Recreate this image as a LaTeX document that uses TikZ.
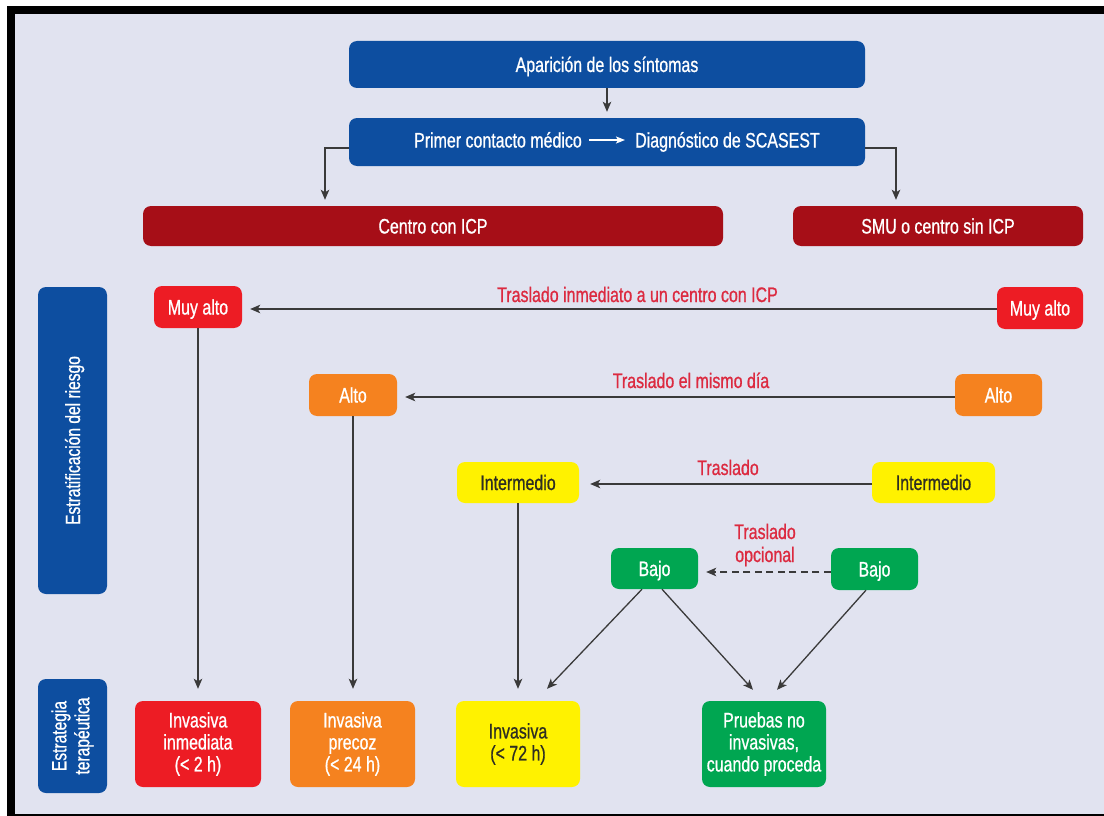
\documentclass[tikz,border=0pt]{standalone}
\usepackage{fontspec}
\setmainfont{Liberation Sans}[FakeStretch=0.76,FakeBold=0.8]
\usetikzlibrary{arrows.meta,calc}
\definecolor{bg}{HTML}{E1E3F0}
\definecolor{cblue}{HTML}{0D4EA0}
\definecolor{cdred}{HTML}{A60E17}
\definecolor{cred}{HTML}{ED1C24}
\definecolor{corange}{HTML}{F5821F}
\definecolor{cyellow}{HTML}{FFF200}
\definecolor{cgreen}{HTML}{00A651}
\definecolor{clbl}{HTML}{DC2A40}
\definecolor{cline}{HTML}{3A3A3A}
\definecolor{cdark}{HTML}{2E2E22}
\newcommand\bxfont{\fontsize{21}{22}\selectfont}
\newcommand\rtfont{\fontsize{20.5}{23}\selectfont}
\tikzset{
  box/.style={rounded corners=8pt, inner sep=0pt, align=center, text=white, font=\bxfont},
  one/.style={text height=15pt, text depth=0pt},
  bluebox/.style={box, fill=cblue},
  dredbox/.style={box, fill=cdred},
  redbox/.style={box, fill=cred},
  orangebox/.style={box, fill=corange},
  yellowbox/.style={box, fill=cyellow, text=cdark},
  greenbox/.style={box, fill=cgreen},
  wtext/.style={inner sep=0pt, text=white, font=\bxfont, text height=15pt, text depth=0pt},
  lbl/.style={inner sep=0pt, text=clbl, font=\bxfont, align=center},
  arr/.style={draw=cline, line width=1.3pt, -{Stealth[length=10pt,width=8.5pt,inset=2.5pt]}},
  warr/.style={draw=white, line width=1.2pt, -{Stealth[length=9pt,width=7pt,inset=2pt]}},
}
\begin{document}
\begin{tikzpicture}[x=1pt,y=-1pt]
\useasboundingbox (0,0) rectangle (1104,816);
\fill[white] (0,0) rectangle (1104,816);
\fill[black] (7,6) rectangle (1104,816);
\fill[bg] (15,14) rectangle (1104,814);

% top
\node[bluebox, one, minimum width=516pt, minimum height=47pt] (ap) at (607,64.5) {Aparición de los síntomas};
\node[bluebox, minimum width=516pt, minimum height=48pt] (pc) at (607,142) {};
\node[wtext, anchor=east] (pc1) at (582,140) {Primer contacto médico};
\node[wtext, anchor=west] (pc2) at (635,140) {Diagnóstico de SCASEST};
\draw[warr, shorten <=7pt, shorten >=10pt] (pc1) -- (pc2);

\node[dredbox, one, minimum width=580pt, minimum height=40pt] (centro) at (433,226) {Centro con ICP};
\node[dredbox, one, minimum width=290pt, minimum height=40pt] (smu) at (938,226) {SMU o centro sin ICP};

% side labels
\node[bluebox, one, rotate=90, font=\rtfont, minimum width=307pt, minimum height=69pt] (estr) at (72.5,440.5) {Estratificación del riesgo};
\node[bluebox, rotate=90, font=\rtfont, minimum width=114pt, minimum height=69pt] (estt) at (72.5,736) {Estrategia\\terapéutica};

% risk levels
\node[redbox, one, minimum width=88pt, minimum height=42pt] (muy1) at (198,307) {Muy alto};
\node[redbox, one, minimum width=86pt, minimum height=42pt] (muy2) at (1040,308) {Muy alto};
\node[orangebox, one, minimum width=88pt, minimum height=42pt] (alto1) at (353,395) {Alto};
\node[orangebox, one, minimum width=87pt, minimum height=42pt] (alto2) at (998.5,395) {Alto};
\node[yellowbox, one, minimum width=122pt, minimum height=41pt] (int1) at (518,482.5) {Intermedio};
\node[yellowbox, one, minimum width=123pt, minimum height=41pt] (int2) at (933.5,482.5) {Intermedio};
\node[greenbox, one, minimum width=87pt, minimum height=41pt] (bajo1) at (654.5,568.5) {Bajo};
\node[greenbox, one, minimum width=87pt, minimum height=42pt] (bajo2) at (874.5,569) {Bajo};

% strategies
\node[redbox, minimum width=126pt, minimum height=86pt] (inv1) at (198,744) {Invasiva\\inmediata\\(< 2 h)};
\node[orangebox, minimum width=125pt, minimum height=86pt] (inv2) at (352.5,744) {Invasiva\\precoz\\(< 24 h)};
\node[yellowbox, minimum width=124pt, minimum height=86pt] (inv3) at (518,744) {Invasiva\\(< 72 h)};
\node[greenbox, minimum width=124pt, minimum height=86pt] (prue) at (764,744) {Pruebas no\\invasivas,\\cuando proceda};

% labels
\node[lbl, anchor=base] (l1) at (637.5,302) {Traslado inmediato a un centro con ICP};
\node[lbl, anchor=base] (l2) at (691,388) {Traslado el mismo día};
\node[lbl, anchor=base] (l3) at (728,475) {Traslado};
\node[lbl, anchor=base, font=\fontsize{21}{23}\selectfont] (l4) at (765,562) {Traslado\\opcional};

% connectors
\draw[arr, shorten >=6pt] (ap) -- (pc);
\draw[arr, shorten >=6pt] (pc.west |- 0,148) -| (centro.north -| 325,0);
\draw[arr, shorten >=6pt] (pc.east |- 0,148) -| (smu.north -| 896,0);

\draw[arr, shorten >=8pt] (muy2.west |- 0,309) -- (muy1.east |- 0,309);
\draw[arr, shorten >=8pt] (alto2.west |- 0,397) -- (alto1.east |- 0,397);
\draw[arr, shorten >=11pt] (int2.west |- 0,484) -- (int1.east |- 0,484);
\draw[arr, dash pattern=on 7pt off 4.5pt, shorten >=8pt] (bajo2.west |- 0,572) -- (bajo1.east |- 0,572);

\draw[arr, shorten >=12pt] (muy1.south) -- (inv1.north -| muy1.south);
\draw[arr, shorten >=12pt] (alto1.south) -- (inv2.north -| alto1.south);
\draw[arr, shorten >=12pt] (int1.south) -- (inv3.north -| int1.south);

\draw[arr] ($(bajo1.south)+(-12.5,0)$) -- ($(inv3.north)+(29,-12)$);
\draw[arr] ($(bajo1.south)+(7.5,0)$) -- ($(prue.north)+(-11,-11)$);
\draw[arr] ($(bajo2.south)+(-8.5,0)$) -- ($(prue.north)+(13,-11)$);
\end{tikzpicture}
\end{document}
